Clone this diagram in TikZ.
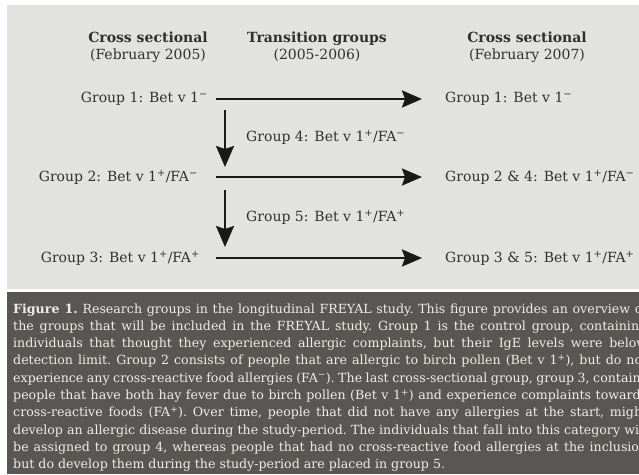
\documentclass[tikz,border=0pt]{standalone}
\usepackage{fontspec}
\setmainfont{DejaVu Serif}
\usetikzlibrary{arrows.meta}
\definecolor{panel}{HTML}{E2E2DF}
\definecolor{darkpanel}{HTML}{5A5653}
\definecolor{ink}{HTML}{303030}
\definecolor{captxt}{HTML}{EEEEE8}
\newcommand{\sP}{\textsuperscript{+}}
\newcommand{\sM}{\textsuperscript{−}}
\tikzset{
  hdr/.style={align=center, text=ink, font=\fontsize{14}{17}\selectfont, inner sep=0pt},
  grp/.style={text=ink, font=\fontsize{14}{15}\selectfont, inner sep=0pt},
  harr/.style={draw=black!90, line width=2.6pt, -{Stealth[length=20pt,width=17pt,inset=3pt]}},
  varr/.style={draw=black!90, line width=2pt, -{Stealth[length=21pt,width=18pt,inset=3pt]}},
  capline/.style={anchor=base west, text=captxt, inner sep=0pt, font=\frenchspacing\fontsize{12.6}{17}\selectfont}
}
\newcommand{\jline}[1]{\makebox[634pt][s]{#1}}
\begin{document}
\begin{tikzpicture}[x=1pt,y=-1pt]
\useasboundingbox (0,0) rectangle (639,474);
\clip (0,0) rectangle (639,474);
\fill[white] (0,0) rectangle (639,474);
\fill[panel] (7,5) rectangle (639,289);
\fill[darkpanel] (7,292) rectangle (639,474);

% headers
\node[hdr] (h1) at (148,47) {\textbf{Cross sectional}\\(February 2005)};
\node[hdr] (h2) at (317,47) {\textbf{Transition groups}\\(2005-2006)};
\node[hdr] (h3) at (527,47) {\textbf{Cross sectional}\\(February 2007)};

% left groups
\node[grp, anchor=east] (g1) at (208,99) {Group 1: Bet v 1\sM};
\node[grp, anchor=east] (g2) at (198,177) {Group 2: Bet v 1\sP/FA\sM};
\node[grp, anchor=east] (g3) at (200,258) {Group 3: Bet v 1\sP/FA\sP};

% right groups
\node[grp, anchor=west] (r1) at (445,99) {Group 1: Bet v 1\sM};
\node[grp, anchor=west] (r2) at (445,177) {Group 2 \& 4: Bet v 1\sP/FA\sM};
\node[grp, anchor=west] (r3) at (445,258) {Group 3 \& 5: Bet v 1\sP/FA\sP};

% transition labels
\node[grp, anchor=west] (t4) at (246,137) {Group 4: Bet v 1\sP/FA\sM};
\node[grp, anchor=west] (t5) at (246,217) {Group 5: Bet v 1\sP/FA\sP};

% arrow endpoints
\coordinate (s1) at (216,99);
\coordinate (s2) at (216,177);
\coordinate (s3) at (216,258);
\coordinate (v1s) at (225,110);
\coordinate (v1e) at (225,167);
\coordinate (v2s) at (225,190);
\coordinate (v2e) at (225,247);

\draw[harr, shorten >=23pt] (s1) -- (r1.west |- s1);
\draw[harr, shorten >=23pt] (s2) -- (r2.west |- s2);
\draw[harr, shorten >=23pt] (s3) -- (r3.west |- s3);
\draw[varr] (v1s) -- (v1e);
\draw[varr] (v2s) -- (v2e);

% caption
\node[capline] (c1) at (13,313) {\jline{\textbf{Figure 1.} Research groups in the longitudinal FREYAL study. This figure provides an overview of}};
\node[capline] (c2) at (13,330.3) {\jline{the groups that will be included in the FREYAL study. Group 1 is the control group, containing}};
\node[capline] (c3) at (13,347.6) {\jline{individuals that thought they experienced allergic complaints, but their IgE levels were below}};
\node[capline] (c4) at (13,364.9) {\jline{detection limit. Group 2 consists of people that are allergic to birch pollen (Bet v 1\sP), but do not}};
\node[capline] (c5) at (13,382.2) {\jline{experience any cross-reactive food allergies (FA\sM). The last cross-sectional group, group 3, contains}};
\node[capline] (c6) at (13,399.5) {\jline{people that have both hay fever due to birch pollen (Bet v 1\sP) and experience complaints towards}};
\node[capline] (c7) at (13,416.8) {\jline{cross-reactive foods (FA\sP). Over time, people that did not have any allergies at the start, might}};
\node[capline] (c8) at (13,434.1) {\jline{develop an allergic disease during the study-period. The individuals that fall into this category will}};
\node[capline] (c9) at (13,451.4) {\jline{be assigned to group 4, whereas people that had no cross-reactive food allergies at the inclusion}};
\node[capline] (c10) at (13,468.7) {but do develop them during the study-period are placed in group 5.};
\end{tikzpicture}
\end{document}
